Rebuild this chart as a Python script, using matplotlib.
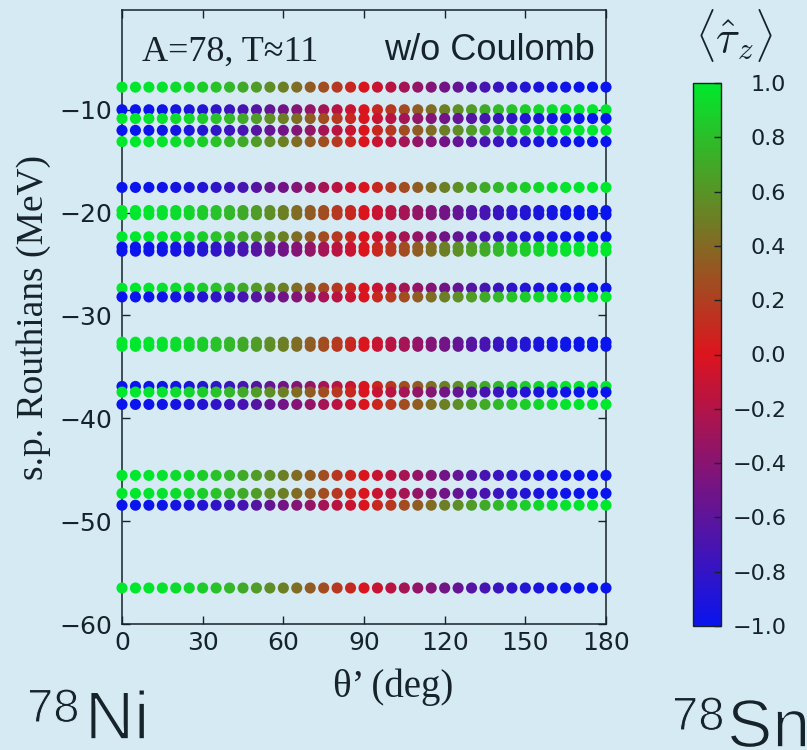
import numpy as np
import matplotlib
matplotlib.use("Agg")
import matplotlib.pyplot as plt
import matplotlib.patheffects as pe
from matplotlib.colors import LinearSegmentedColormap

plt.rcParams['mathtext.fontset'] = 'cm'

# ---- data ----
theta = [0, 5, 10, 15, 20, 25, 30, 35, 40, 45, 50, 55, 60, 65, 70, 75, 80, 85, 90,
         95, 100, 105, 110, 115, 120, 125, 130, 135, 140, 145, 150, 155, 160, 165,
         170, 175, 180]
# isospin projection profile (green -> red -> blue)
tau_profile = [1.00, 1.00, 0.98, 0.97, 0.94, 0.91, 0.87, 0.82, 0.77, 0.71, 0.64,
               0.57, 0.50, 0.42, 0.34, 0.26, 0.17, 0.09, 0.00, -0.09, -0.17,
               -0.26, -0.34, -0.42, -0.50, -0.57, -0.64, -0.71, -0.77, -0.82,
               -0.87, -0.91, -0.94, -0.97, -0.98, -1.00, -1.00]
level_energy = [-7.8, -10.0, -10.85, -12.0, -13.1, -17.55, -19.8, -20.2, -22.35,
                -23.35, -23.75, -27.35, -28.2, -32.6, -33.0, -36.9, -37.45,
                -38.65, -45.55, -47.3, -48.45, -56.5]
level_sign = [1, -1, 1, -1, 1, -1, 1, 1, 1, -1, -1, 1, -1, 1, 1, -1, 1, -1, 1, 1, -1, 1]
xticks = [0, 30, 60, 90, 120, 150, 180]
yticks = [-60, -50, -40, -30, -20, -10]
cbar_ticks = [-1.0, -0.8, -0.6, -0.4, -0.2, 0.0, 0.2, 0.4, 0.6, 0.8, 1.0]

bg = '#d6eaf3'
ink = '#16232a'
cmap = LinearSegmentedColormap.from_list('bgr', ['#0a14ee', '#dc141e', '#00e82c'])

fig = plt.figure(figsize=(8.07, 7.5), dpi=100, facecolor=bg)
ax = fig.add_axes([122/807, 126/750, 484/807, 614/750])
ax.set_facecolor(bg)

sc = None
for e, sgn in zip(level_energy, level_sign):
    sc = ax.scatter(theta, [e]*len(theta), c=[sgn*t for t in tau_profile],
                    cmap=cmap, vmin=-1, vmax=1, s=64, edgecolors='none',
                    clip_on=False, zorder=3)

ax.set_xlim(0, 180)
ax.set_ylim(-60, -0.3)
ax.set_xticks(xticks)
ax.set_yticks(yticks)
ax.tick_params(direction='in', top=True, right=True, length=6, width=1.0,
               color=ink, labelsize=18, labelcolor=ink)
ax.tick_params(axis='y', pad=7)
ax.tick_params(axis='x', pad=5)
for sp in ax.spines.values():
    sp.set_color(ink)
    sp.set_linewidth(1.1)

ax.set_xlabel('θ’ (deg)', family='Liberation Serif', fontsize=28, color=ink)
ax.xaxis.label.set_verticalalignment('baseline')
ax.xaxis.set_label_coords((393 - 122)/484, -(697 - 624)/614)
ax.set_ylabel('s.p. Routhians (MeV)', family='Liberation Serif', fontsize=27, color=ink, labelpad=6)

ax.text(0.041, 0.918, 'A=78, T≈11', transform=ax.transAxes, family='Liberation Serif',
        fontsize=26, color=ink, va='baseline', ha='left')
ax.text(0.976, 0.918, 'w/o Coulomb', transform=ax.transAxes, family='Liberation Sans',
        fontsize=26, color=ink, va='baseline', ha='right')

# colourbar
cax = fig.add_axes([693/807, 124/750, 28/807, 543/750])
cb = fig.colorbar(sc, cax=cax, ticks=cbar_ticks)
cb.ax.yaxis.set_major_formatter(
    matplotlib.ticker.FuncFormatter(lambda v, p: f'{v:.1f}'.replace('-', '\u2212')))
cb.ax.tick_params(direction='in', length=5, width=1.0, color=ink, labelsize=16,
                  labelcolor=ink, pad=47)
for lab in cb.ax.get_yticklabels():
    lab.set_horizontalalignment('right')
cb.outline.set_edgecolor(ink)
cb.outline.set_linewidth(1.0)
fig.text(734/807, 1 - 36/750, r'$\langle\hat{\tau}_z\rangle$', fontsize=32,
         color=ink, ha='center', va='center')

# nucleus labels (slightly thinned glyphs)
for x, y, s, fs, lw in [(27, 722, '78', 34, 0.8), (85, 739, 'Ni', 49, 1.2),
                        (672, 730, '78', 34, 0.8), (727, 747, 'Sn', 49, 1.2)]:
    fig.text(x/807, 1 - y/750, s, family='Liberation Sans', fontsize=fs, color=ink,
             ha='left', va='baseline',
             path_effects=[pe.Stroke(linewidth=lw, foreground=bg)])

fig.savefig('out.png', dpi=100, facecolor=bg)
